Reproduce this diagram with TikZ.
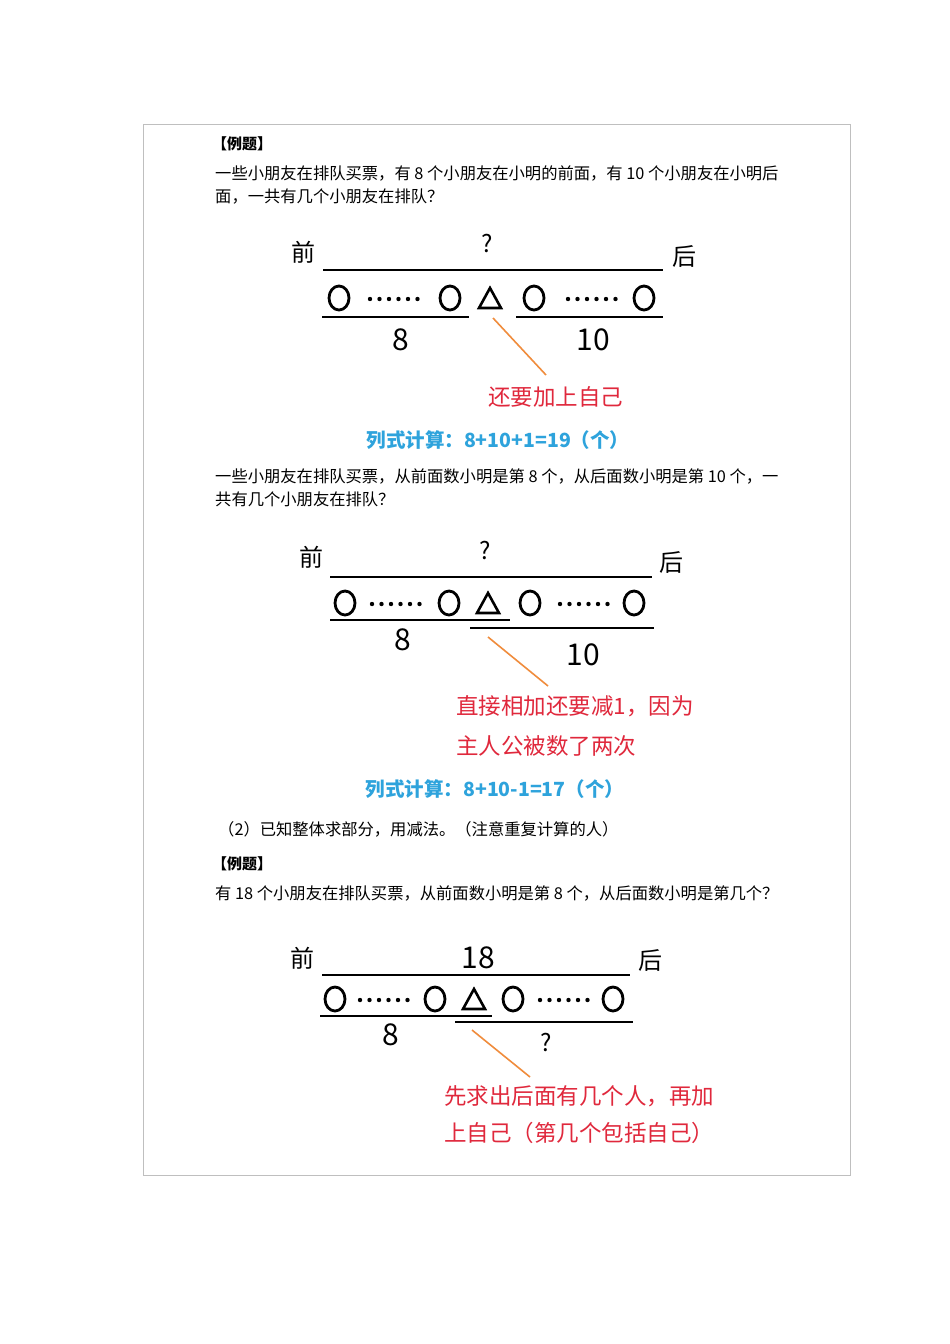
\documentclass[tikz,border=0pt]{standalone}
\usepackage{fontspec}
\setmainfont{Noto Sans CJK SC}
\newfontfamily\cjk{Noto Sans CJK SC}
\definecolor{redtxt}{HTML}{E0283C}
\definecolor{bluetxt}{HTML}{2EA3DC}
\definecolor{orangeln}{HTML}{F08C3C}
\tikzset{
 body/.style={anchor=west,inner sep=0,font=\fontsize{16.3}{18}\selectfont\cjk},
 lbl/.style={inner sep=0,font=\fontsize{24}{26}\selectfont\cjk},
 num/.style={inner sep=0,font=\fontsize{30}{32}\selectfont\cjk},
 redt/.style={anchor=west,inner sep=0,text=redtxt,font=\fontsize{22.5}{25}\selectfont\cjk},
 bluet/.style={inner sep=0,text=bluetxt,font=\fontsize{19.5}{22}\selectfont\bfseries\cjk},
 bar/.style={line width=2.6pt},
 circ/.style={line width=2.8pt},
 ptr/.style={orangeln,line width=1.6pt}
}
\newcommand{\crow}[9]{% y, c1, d1start, c2, tri, c3, d2start, c4, spacing
 \draw[circ] (#2,#1) ellipse (10 and 12);
 \draw[circ] (#4,#1) ellipse (10 and 12);
 \draw[circ] (#6,#1) ellipse (10 and 12);
 \draw[circ] (#8,#1) ellipse (10 and 12);
 \foreach \i in {0,...,5}{\fill (#3+\i*#9,#1+1) circle (2.2);\fill (#7+\i*#9,#1+1) circle (2.2);}
 \draw[line width=2.6pt,line join=miter] (#5-11,#1+10) -- (#5,#1-10) -- (#5+11,#1+10) -- cycle;
}
\begin{document}
\begin{tikzpicture}[x=1pt,y=-1pt]
\useasboundingbox (0,0) rectangle (950,1344);
\fill[white] (0,0) rectangle (950,1344);
\draw[black!25,line width=0.8pt] (143,124) rectangle (850,1175);
% text block 1
\node[body,font=\fontsize{15}{17}\selectfont\bfseries\cjk] (h1) at (212,144) {【例题】};
\node[body] (t1) at (215,173) {一些小朋友在排队买票，有 8 个小朋友在小明的前面，有 10 个小朋友在小明后};
\node[body] (t2) at (215,197) {面，一共有几个小朋友在排队？};
% diagram 1
\node[lbl] (q1) at (303,252) {前};
\node[lbl] (a1) at (487,244) {?};
\node[lbl] (h1b) at (684,256) {后};
\draw[bar] (323,270) -- (663,270);
\crow{298}{339}{370}{450}{490}{534}{568}{644}{9.5}
\draw[bar] (322,317) -- (469,317);
\draw[bar] (516,317) -- (663,317);
\node[num] (n8a) at (401,340) {8};
\node[num] (n10a) at (593,340) {10};
\coordinate (p1) at (493,318);
\node[redt] (r1) at (488,397) {还要加上自己};
\draw[ptr] (p1) -- (546,375);
\node[bluet] (b1) at (498,440) {列式计算：8+10+1=19（个）};
% text block 2
\node[body] (t3) at (215,476) {一些小朋友在排队买票，从前面数小明是第 8 个，从后面数小明是第 10 个，一};
\node[body] (t4) at (215,499) {共有几个小朋友在排队？};
% diagram 2
\node[lbl] (q2) at (311,557) {前};
\node[lbl] (a2) at (485,551) {?};
\node[lbl] (h2) at (671,562) {后};
\draw[bar] (330,577) -- (652,577);
\crow{603}{345}{372}{449}{488}{530}{560}{634}{9.5}
\draw[bar] (330,620) -- (510,620);
\draw[bar] (470,628) -- (654,628);
\node[num] (n8b) at (403,640) {8};
\node[num] (n10b) at (583,655) {10};
\coordinate (p2) at (488,637);
\draw[ptr] (p2) -- (548,686);
\node[redt] (r2) at (456,706) {直接相加还要减1，因为};
\node[redt] (r3) at (456,746) {主人公被数了两次};
\node[bluet] (b2) at (495,789) {列式计算：8+10-1=17（个）};
% text block 3
\node[body] (t5) at (218,829) {（2）已知整体求部分，用减法。（注意重复计算的人）};
\node[body,font=\fontsize{15}{17}\selectfont\bfseries\cjk] (h3) at (212,864) {【例题】};
\node[body] (t6) at (215,893) {有 18 个小朋友在排队买票，从前面数小明是第 8 个，从后面数小明是第几个？};
% diagram 3
\node[lbl] (q3) at (302,958) {前};
\node[num] (a3) at (478,958) {18};
\node[lbl] (h4) at (650,960) {后};
\draw[bar] (322,975) -- (630,975);
\crow{999}{335}{360}{435}{474}{513}{540}{613}{9.5}
\draw[bar] (320,1016) -- (492,1016);
\draw[bar] (455,1022) -- (633,1022);
\node[num] (n8c) at (391,1035) {8};
\node[lbl] (qc) at (546,1042) {?};
\coordinate (p3) at (472,1030);
\draw[ptr] (p3) -- (530,1077);
\node[redt] (r4) at (444,1096) {先求出后面有几个人，再加};
\node[redt] (r5) at (444,1133) {上自己（第几个包括自己）};
\end{tikzpicture}
\end{document}
